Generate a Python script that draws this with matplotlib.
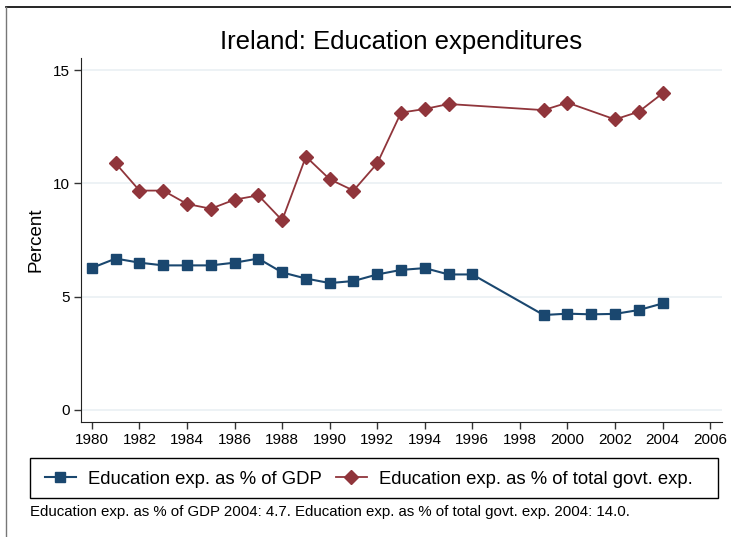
import numpy as np
import matplotlib.pyplot as plt
from matplotlib.lines import Line2D
from matplotlib.patches import Rectangle

plt.rcParams['font.family'] = ['Liberation Sans', 'DejaVu Sans']

years_gdp = [1980, 1981, 1982, 1983, 1984, 1985, 1986, 1987, 1988, 1989, 1990, 1991,
             1992, 1993, 1994, 1995, 1996, 1999, 2000, 2001, 2002, 2003, 2004]
gdp = [6.27, 6.68, 6.5, 6.38, 6.38, 6.38, 6.5, 6.68, 6.07, 5.8, 5.6, 5.69,
       5.98, 6.18, 6.26, 5.98, 5.98, 4.19, 4.25, 4.22, 4.24, 4.41, 4.7]

years_gov = [1981, 1982, 1983, 1984, 1985, 1986, 1987, 1988, 1989, 1990, 1991, 1992,
             1993, 1994, 1995, 1999, 2000, 2002, 2003, 2004]
gov = [10.88, 9.68, 9.68, 9.09, 8.88, 9.28, 9.47, 8.37, 11.18, 10.18, 9.68, 10.88,
       13.12, 13.28, 13.5, 13.23, 13.56, 12.82, 13.16, 13.97]

xticks = list(range(1980, 2007, 2))
yticks = [0, 5, 10, 15]

blue = '#1a476f'
red = '#90353b'

W, H = 731, 537
fig = plt.figure(figsize=(W / 100, H / 100), dpi=100)
ax = fig.add_axes([81 / W, 1 - 422 / H, (722 - 81) / W, (422 - 58) / H])

ax.plot(years_gdp, gdp, color=blue, marker='s', markersize=7, lw=1.5,
        label='Education exp. as % of GDP')
ax.plot(years_gov, gov, color=red, marker='D', markersize=7.5, lw=1.3,
        label='Education exp. as % of total govt. exp.')

ax.set_xlim(1979.54, 2006.5)
ax.set_ylim(-0.53, 15.53)
ax.set_xticks(xticks)
ax.set_yticks(yticks)
ax.tick_params(axis='both', direction='out', length=5, width=1, labelsize=11,
               color='#333333', pad=3)
for s in ['top', 'right']:
    ax.spines[s].set_visible(False)
for s in ['left', 'bottom']:
    ax.spines[s].set_color('#222222')
ax.grid(axis='y', color='#eaf0f3', lw=1.2)
ax.set_axisbelow(True)
ax.set_ylabel('Percent', fontsize=13.5, labelpad=6)

fig.text(401 / W, 1 - 42 / H, 'Ireland: Education expenditures', ha='center',
         va='center', fontsize=18.5)

# legend box drawn by hand, legend itself without frame
fig.add_artist(Rectangle((30 / W, 1 - 498 / H), (718 - 30) / W, 40 / H,
                         transform=fig.transFigure, fill=False, edgecolor='black', lw=1.0))
handles = [Line2D([], [], color=blue, marker='s', markersize=6.5, lw=1.5),
           Line2D([], [], color=red, marker='D', markersize=7, lw=1.3)]
labels = ['Education exp. as % of GDP', 'Education exp. as % of total govt. exp.']
leg = fig.legend(handles, labels, loc='center left', bbox_to_anchor=(36 / W, 1 - 479 / H),
                 ncol=2, fontsize=13.3, frameon=False, handlelength=1.65,
                 columnspacing=0.8, handletextpad=0.65, borderpad=0.0)

fig.text(30 / W, 1 - 512 / H,
         'Education exp. as % of GDP 2004: 4.7. Education exp. as % of total govt. exp. 2004: 14.0.',
         ha='left', va='center', fontsize=10.8)

# outer frame lines
fig.add_artist(Line2D([6 / W, 1], [1 - 7 / H, 1 - 7 / H], color='black', lw=1.2))
fig.add_artist(Line2D([6 / W, 6 / W], [0, 1 - 7 / H], color='#777777', lw=1.0))

fig.savefig('out.png', dpi=100)
